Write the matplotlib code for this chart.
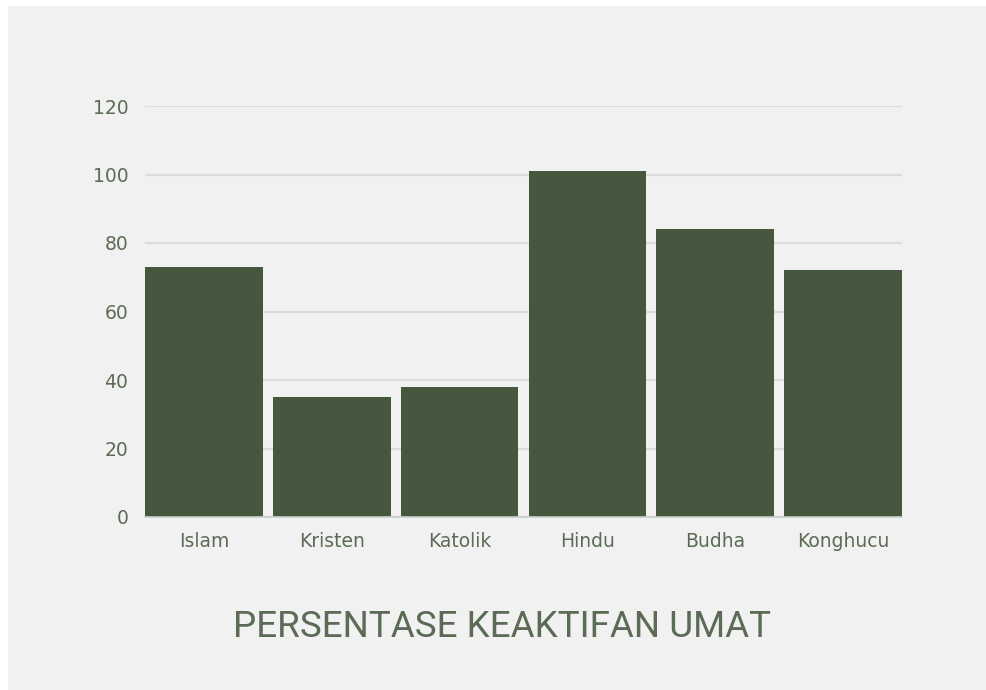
import matplotlib
matplotlib.use("Agg")
import matplotlib.pyplot as plt
from matplotlib.patches import Rectangle

categories = ["Islam", "Kristen", "Katolik", "Hindu", "Budha", "Konghucu"]
values = [73, 35, 38, 101, 84, 72]
y_ticks = [0, 20, 40, 60, 80, 100, 120]

BAR_COLOR = "#46573f"
TEXT_COLOR = "#5b6b55"
GRID_COLOR = "#dcdcdc"
PANEL_COLOR = "#f1f1f1"

plt.rcParams["font.family"] = ["Roboto", "DejaVu Sans"]

W, H = 987, 690
fig = plt.figure(figsize=(W / 100, H / 100), dpi=100)
fig.patch.set_facecolor("white")

# light gray card behind everything
bg = fig.add_axes([0, 0, 1, 1], zorder=-10)
bg.set_axis_off()
bg.set_xlim(0, W)
bg.set_ylim(H, 0)
bg.add_patch(Rectangle((8, 6), W - 8, H - 6, facecolor=PANEL_COLOR, edgecolor="none"))

ax = fig.add_axes([145 / W, 173 / H, 757 / W, 411 / H])
ax.set_facecolor("none")

x = range(len(categories))
ax.bar(x, values, width=0.92, color=BAR_COLOR, zorder=3)

ax.set_xlim(-0.46, len(categories) - 1 + 0.46)
ax.set_ylim(0, 120)
ax.set_yticks(y_ticks)
ax.set_xticks(list(x))
ax.set_xticklabels(categories)

ax.grid(axis="y", color=GRID_COLOR, linewidth=1.6, zorder=0)
for s in ["top", "right", "left"]:
    ax.spines[s].set_visible(False)
ax.spines["bottom"].set_color("#c9cfc6")
ax.spines["bottom"].set_linewidth(1.2)
ax.spines["bottom"].set_zorder(4)

ax.tick_params(axis="both", length=0, labelsize=13.5, colors=TEXT_COLOR)
for lbl in ax.get_xticklabels() + ax.get_yticklabels():
    lbl.set_fontfamily(["DejaVu Sans"])
ax.tick_params(axis="y", pad=12)
ax.tick_params(axis="x", pad=11)

fig.text(502 / W, 1 - 627 / H, "PERSENTASE KEAKTIFAN UMAT", ha="center",
         va="center", fontsize=26.5, color=TEXT_COLOR)

fig.savefig("out.png", dpi=100)
